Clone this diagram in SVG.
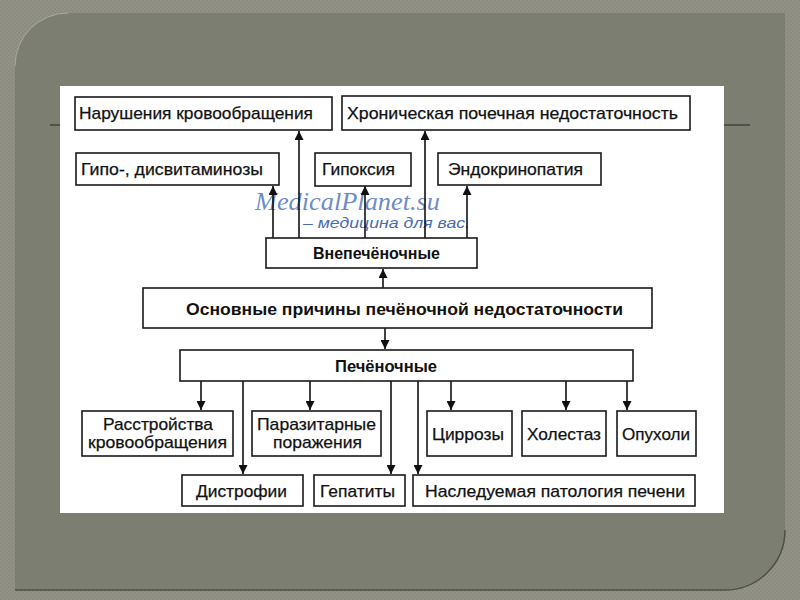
<svg xmlns="http://www.w3.org/2000/svg" width="800" height="600" viewBox="0 0 800 600">
<defs>
<pattern id="tex" width="4" height="4" patternUnits="userSpaceOnUse">
<rect width="4" height="4" fill="#8b8c7f"/>
<rect width="2" height="2" fill="#939487"/>
<rect x="2" y="2" width="2" height="2" fill="#939487"/>
</pattern>
<marker id="ah" viewBox="0 0 10 10" refX="10" refY="5" markerWidth="10" markerHeight="9" markerUnits="userSpaceOnUse" orient="auto">
<path d="M0,0 L10,5 L0,10 Z" fill="#111"/>
</marker>
<style>
.box{fill:#fff;stroke:#1a1a1a;stroke-width:1.6}
.t{font-family:"Liberation Sans",Arial,sans-serif;font-size:17px;fill:#111;stroke:#111;stroke-width:0.25}
.b{font-weight:bold;stroke-width:0}
.c{text-anchor:middle}
.ln{stroke:#111;stroke-width:1.6;fill:none;marker-end:url(#ah)}
</style>
</defs>
<rect width="800" height="600" fill="url(#tex)"/>
<path d="M15,13 H785 V530 A60,60 0 0 1 725,590 H15 Z" fill="#7c7e71"/>
<path d="M15,13 H68 A53,53 0 0 0 15,66 Z" fill="url(#tex)"/>
<path d="M15,66 A53,53 0 0 1 68,13" fill="none" stroke="#a9aa9c" stroke-width="1"/>
<path d="M785,530 A60,60 0 0 1 725,590 H15" fill="none" stroke="#4e5046" stroke-width="1.5"/>
<line x1="50" y1="125" x2="62" y2="125" stroke="#222" stroke-width="1"/>
<line x1="722" y1="125" x2="750" y2="125" stroke="#222" stroke-width="1"/>
<rect x="60" y="86" width="664" height="427" fill="#fff"/>

<g id="watermark" font-style="italic">
<text x="255" y="210" font-family="'Liberation Serif','Times New Roman',serif" font-size="25" fill="#5b7cc0" fill-opacity="0.9" textLength="185" lengthAdjust="spacingAndGlyphs">MedicalPlanet.su</text>
<text x="303" y="228" font-family="'Liberation Sans',Arial,sans-serif" font-size="14" fill="#4a6ab5" textLength="167" lengthAdjust="spacingAndGlyphs">– медицина для вас.</text>
</g>

<g id="connectors">
<line class="ln" x1="273" y1="238" x2="273" y2="186"/>
<line class="ln" x1="299" y1="238" x2="299" y2="131"/>
<line class="ln" x1="365" y1="238" x2="365" y2="186"/>
<line class="ln" x1="425" y1="238" x2="425" y2="131"/>
<line class="ln" x1="467" y1="238" x2="467" y2="186"/>
<line class="ln" x1="383" y1="288" x2="383" y2="269"/>
<line class="ln" x1="385" y1="328" x2="385" y2="349"/>
<line class="ln" x1="201" y1="381" x2="201" y2="410"/>
<line class="ln" x1="243" y1="381" x2="243" y2="474"/>
<line class="ln" x1="310" y1="381" x2="310" y2="410"/>
<line class="ln" x1="391" y1="381" x2="391" y2="474"/>
<line class="ln" x1="418" y1="381" x2="418" y2="474"/>
<line class="ln" x1="451" y1="381" x2="451" y2="410"/>
<line class="ln" x1="566" y1="381" x2="566" y2="410"/>
<line class="ln" x1="627" y1="381" x2="627" y2="410"/>
</g>

<g id="n1"><rect class="box" x="75" y="97" width="257" height="33"/><text class="t" x="79" y="119" textLength="234" lengthAdjust="spacingAndGlyphs">Нарушения кровообращения</text></g>
<g id="n2"><rect class="box" x="342" y="96" width="348" height="34"/><text class="t" x="347" y="119" textLength="331" lengthAdjust="spacingAndGlyphs">Хроническая почечная недостаточность</text></g>
<g id="n3"><rect class="box" x="76" y="153" width="203" height="32"/><text class="t" x="81" y="175" textLength="182" lengthAdjust="spacingAndGlyphs">Гипо-, дисвитаминозы</text></g>
<g id="n4"><rect class="box" x="315" y="153" width="96" height="33"/><text class="t" x="322" y="175" textLength="73" lengthAdjust="spacingAndGlyphs">Гипоксия</text></g>
<g id="n5"><rect class="box" x="438" y="153" width="163" height="32"/><text class="t" x="448" y="175" textLength="135" lengthAdjust="spacingAndGlyphs">Эндокринопатия</text></g>
<g id="n6"><rect class="box" x="266" y="238" width="211" height="30"/><text class="t b" x="313" y="259" textLength="127" lengthAdjust="spacingAndGlyphs">Внепечёночные</text></g>
<g id="n7"><rect class="box" x="143" y="288" width="509" height="40"/><text class="t b" x="186" y="315" textLength="437" lengthAdjust="spacingAndGlyphs">Основные причины печёночной недостаточности</text></g>
<g id="n8"><rect class="box" x="180" y="350" width="453" height="31"/><text class="t b" x="335" y="372" textLength="102" lengthAdjust="spacingAndGlyphs">Печёночные</text></g>
<g id="n9"><rect class="box" x="82" y="411" width="151" height="45"/><text class="t" x="103" y="430" textLength="110" lengthAdjust="spacingAndGlyphs">Расстройства</text><text class="t" x="88" y="448" textLength="139" lengthAdjust="spacingAndGlyphs">кровообращения</text></g>
<g id="n10"><rect class="box" x="252" y="411" width="129" height="45"/><text class="t" x="257" y="430" textLength="119" lengthAdjust="spacingAndGlyphs">Паразитарные</text><text class="t" x="273" y="448" textLength="89" lengthAdjust="spacingAndGlyphs">поражения</text></g>
<g id="n11"><rect class="box" x="427" y="411" width="85" height="45"/><text class="t" x="432" y="440" textLength="72" lengthAdjust="spacingAndGlyphs">Циррозы</text></g>
<g id="n12"><rect class="box" x="522" y="411" width="84" height="45"/><text class="t" x="527" y="440" textLength="74" lengthAdjust="spacingAndGlyphs">Холестаз</text></g>
<g id="n13"><rect class="box" x="617" y="411" width="79" height="45"/><text class="t" x="622" y="440" textLength="68" lengthAdjust="spacingAndGlyphs">Опухоли</text></g>
<g id="n14"><rect class="box" x="182" y="475" width="121" height="31"/><text class="t" x="196" y="497" textLength="91" lengthAdjust="spacingAndGlyphs">Дистрофии</text></g>
<g id="n15"><rect class="box" x="314" y="475" width="91" height="31"/><text class="t" x="320" y="497" textLength="75" lengthAdjust="spacingAndGlyphs">Гепатиты</text></g>
<g id="n16"><rect class="box" x="413" y="475" width="282" height="31"/><text class="t" x="425" y="497" textLength="260" lengthAdjust="spacingAndGlyphs">Наследуемая патология печени</text></g>
</svg>
